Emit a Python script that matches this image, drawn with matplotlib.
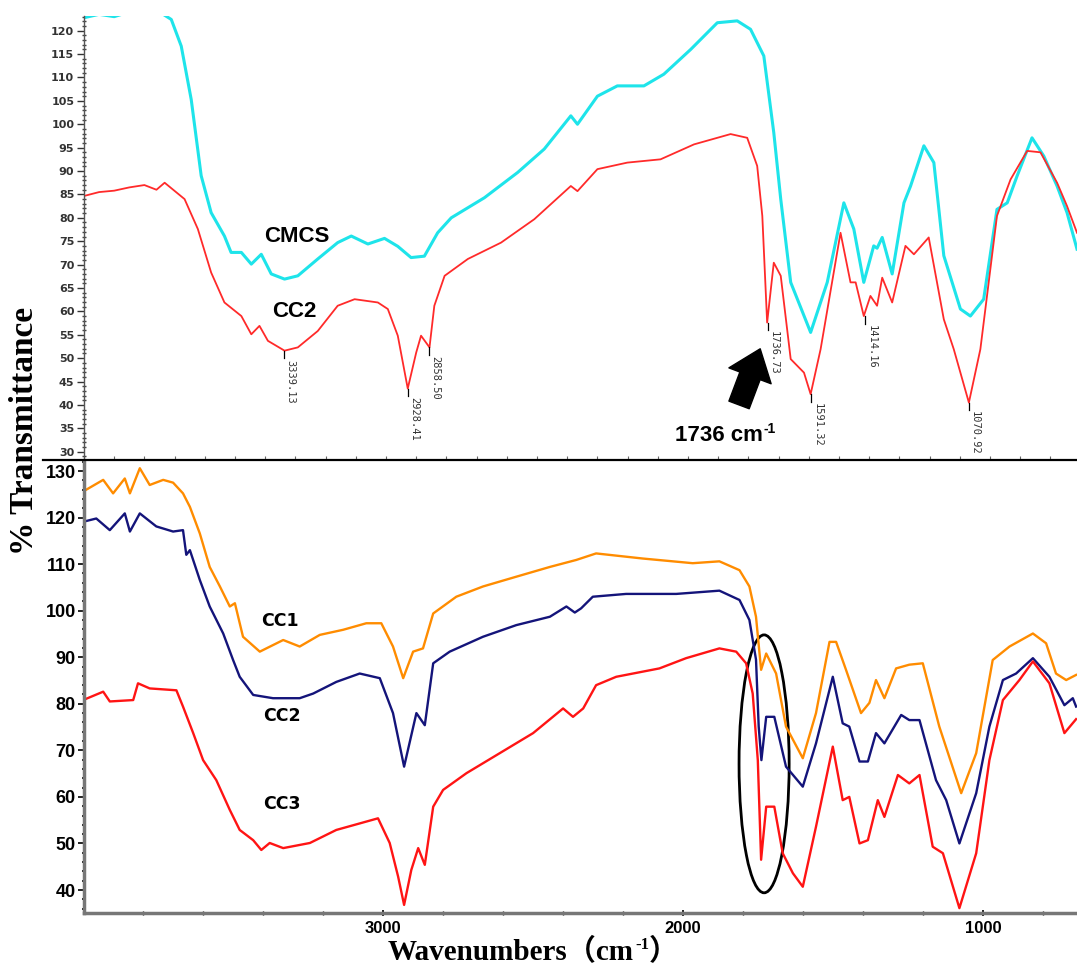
import matplotlib
matplotlib.use("Agg")
import matplotlib.pyplot as plt
from matplotlib.lines import Line2D
from matplotlib.patches import Ellipse
from matplotlib.ticker import MultipleLocator, FixedLocator

# ---------------- data: top panel (CMCS vs CC2) ----------------
cmcs_wn = [3998, 3950, 3900, 3850, 3800, 3750, 3711, 3678, 3645, 3612, 3579, 3535, 3513, 3479, 3446,
           3413, 3380, 3336, 3292, 3226, 3160, 3115, 3060, 3005, 2961, 2917, 2873, 2829, 2784, 2674,
           2564, 2476, 2388, 2366, 2344, 2300, 2234, 2146, 2080, 1991, 1903, 1837, 1793, 1749, 1716,
           1693, 1660, 1594, 1539, 1484, 1451, 1418, 1385, 1374, 1357, 1324, 1285, 1263, 1219, 1186,
           1153, 1098, 1065, 1021, 977, 943, 910, 861, 822, 778, 745, 712]
cmcs_t = [122.8, 123.5, 123.0, 124.0, 123.5, 124.0, 122.4, 116.7, 105.3, 89.0, 81.1, 76.1, 72.6, 72.6, 70.1,
          72.2, 68.0, 66.9, 67.6, 71.2, 74.7, 76.1, 74.4, 75.6, 73.9, 71.5, 71.8, 76.8, 80.0, 84.3,
          89.7, 94.7, 101.8, 100.0, 102.0, 106.0, 108.2, 108.2, 110.7, 116.0, 121.7, 122.1, 120.3, 114.6, 98.2,
          84.0, 66.2, 55.5, 66.2, 83.2, 77.6, 66.2, 74.0, 73.5, 75.8, 68.0, 83.2, 86.8, 95.4, 91.8,
          71.9, 60.5, 59.0, 62.6, 81.8, 83.2, 89.0, 97.1, 93.2, 86.8, 81.1, 73.3]

cc2_top_wn = [3998, 3950, 3900, 3850, 3800, 3760, 3733, 3667, 3623, 3579, 3535, 3479, 3446, 3419, 3391,
              3336, 3292, 3226, 3160, 3104, 3027, 2994, 2961, 2928, 2900, 2884, 2856, 2840, 2806, 2729,
              2619, 2509, 2388, 2366, 2300, 2201, 2091, 1980, 1859, 1804, 1771, 1754, 1738, 1716, 1693,
              1660, 1616, 1594, 1561, 1495, 1462, 1445, 1418, 1396, 1374, 1357, 1324, 1280, 1252, 1203,
              1153, 1120, 1070, 1032, 977, 932, 877, 833, 778, 745, 712]
cc2_top_t = [84.7, 85.5, 85.8, 86.5, 87.0, 86.0, 87.5, 84.0, 77.6, 68.3, 61.9, 59.0, 55.1, 56.9, 53.7,
             51.6, 52.3, 55.8, 61.2, 62.6, 61.9, 60.5, 54.8, 43.5, 51.2, 54.8, 52.3, 61.2, 67.6, 71.2,
             74.7, 79.7, 86.8, 85.7, 90.4, 91.8, 92.5, 95.7, 97.9, 97.1, 91.1, 80.4, 57.6, 70.4, 67.6,
             49.8, 46.9, 42.3, 51.9, 76.8, 66.2, 66.2, 59.0, 63.3, 61.2, 67.2, 61.9, 74.0, 72.2, 75.8,
             58.3, 51.9, 40.5, 51.9, 80.4, 88.2, 94.3, 94.0, 87.5, 82.5, 76.8]

peak_wn = [3339.13, 2928.41, 2858.50, 1736.73, 1591.32, 1414.16, 1070.92]
peak_t = [51.6, 43.5, 52.3, 57.6, 42.3, 59.0, 40.5]

# ---------------- data: bottom panel (CC1, CC2, CC3) ----------------
cc1_wn = [4000, 3933, 3900, 3861, 3844, 3811, 3778, 3733, 3700, 3667, 3644, 3611, 3578, 3544, 3511,
          3494, 3467, 3411, 3333, 3278, 3211, 3133, 3056, 3006, 2967, 2933, 2900, 2867, 2833, 2756,
          2667, 2556, 2444, 2356, 2290, 2134, 1968, 1879, 1812, 1779, 1757, 1740, 1723, 1690, 1657,
          1601, 1557, 1512, 1490, 1457, 1407, 1379, 1357, 1329, 1290, 1246, 1201, 1146, 1073, 1023,
          968, 912, 834, 790, 757, 723, 690]
cc1_t = [125.6, 128.1, 125.2, 128.4, 125.2, 130.6, 127.0, 128.1, 127.5, 125.2, 122.3, 116.6, 109.4, 105.2, 100.9,
         101.6, 94.4, 91.2, 93.7, 92.3, 94.8, 95.9, 97.3, 97.3, 92.3, 85.5, 91.2, 91.9, 99.4, 103.0,
         105.2, 107.3, 109.4, 110.9, 112.3, 111.2, 110.2, 110.6, 108.7, 105.2, 98.7, 87.3, 90.8, 86.5, 75.1,
         68.3, 78.0, 93.3, 93.3, 87.3, 78.0, 80.2, 85.1, 81.2, 87.6, 88.4, 88.7, 75.1, 60.8, 69.4,
         89.4, 92.3, 95.1, 93.0, 86.5, 85.1, 86.2]

cc2_wn = [4000, 3956, 3911, 3861, 3844, 3811, 3756, 3700, 3667, 3656, 3644, 3611, 3578, 3533, 3500,
          3478, 3433, 3367, 3278, 3233, 3156, 3078, 3011, 2967, 2930, 2889, 2861, 2833, 2778, 2667,
          2556, 2444, 2389, 2361, 2340, 2301, 2190, 2023, 1879, 1812, 1779, 1757, 1748, 1739, 1723,
          1696, 1657, 1601, 1557, 1501, 1468, 1446, 1412, 1384, 1357, 1329, 1273, 1246, 1212, 1157,
          1123, 1079, 1023, 979, 934, 890, 834, 779, 729, 701, 690]
cc2_t = [119.1, 119.8, 117.3, 120.9, 117.0, 120.9, 118.1, 117.0, 117.3, 112.0, 113.0, 106.6, 100.9, 95.1, 89.4,
         85.8, 81.9, 81.2, 81.2, 82.2, 84.7, 86.5, 85.5, 78.0, 66.5, 78.0, 75.4, 88.7, 91.2, 94.4,
         96.9, 98.7, 100.9, 99.6, 100.5, 103.0, 103.6, 103.6, 104.3, 102.3, 98.0, 89.5, 75.1, 67.9, 77.2,
         77.2, 66.5, 62.2, 71.5, 85.8, 75.8, 75.1, 67.6, 67.6, 73.7, 71.5, 77.6, 76.5, 76.5, 63.6,
         59.3, 50.0, 60.8, 75.1, 85.1, 86.5, 89.8, 85.8, 79.7, 81.2, 79.4]

cc3_wn = [4000, 3933, 3911, 3833, 3817, 3778, 3689, 3667, 3633, 3600, 3556, 3511, 3478, 3433, 3406,
          3378, 3333, 3244, 3156, 3078, 3017, 2978, 2950, 2930, 2906, 2883, 2861, 2833, 2800, 2722,
          2611, 2500, 2400, 2367, 2333, 2290, 2223, 2079, 1990, 1879, 1823, 1790, 1768, 1751, 1740,
          1723, 1696, 1668, 1634, 1601, 1557, 1501, 1468, 1446, 1412, 1384, 1351, 1329, 1284, 1246,
          1212, 1168, 1134, 1079, 1023, 979, 934, 879, 834, 779, 729, 690]
cc3_t = [80.8, 82.6, 80.5, 80.8, 84.4, 83.3, 82.9, 79.4, 73.7, 67.9, 63.6, 57.2, 52.9, 50.7, 48.6,
         50.1, 49.0, 50.1, 52.9, 54.3, 55.4, 50.1, 42.9, 36.8, 44.3, 49.0, 45.4, 57.9, 61.5, 65.1,
         69.4, 73.7, 79.0, 77.2, 79.0, 84.0, 85.8, 87.6, 89.8, 91.9, 91.2, 88.7, 82.2, 67.9, 46.5,
         57.9, 57.9, 47.9, 43.6, 40.7, 53.6, 70.8, 59.3, 60.0, 50.0, 50.7, 59.3, 55.7, 64.7, 62.9,
         64.7, 49.3, 47.9, 36.1, 47.9, 67.9, 80.8, 85.1, 89.1, 84.4, 73.7, 76.7]

top_yticks = list(range(30, 121, 5))
bottom_yticks = list(range(40, 131, 10))
bottom_xticks = [3000, 2000, 1000]

# ---------------- figure ----------------
W, H = 1077, 969
fig = plt.figure(figsize=(W / 100, H / 100), dpi=100)
fig.patch.set_facecolor("white")
renderer = fig.canvas.get_renderer()


def fx(px):
    return px / W


def fy(py):
    return 1 - py / H


def text_with_sup(x_px, base_py, main, sup, tail, fs, sup_fs, rise_px, family, sup_family):
    t1 = fig.text(fx(x_px), fy(base_py), main, fontsize=fs, fontweight="bold",
                  family=family, ha="left", va="baseline")
    bb = t1.get_window_extent(renderer)
    t2 = fig.text(bb.x1 / W + 1 / W, fy(base_py) + rise_px / H, sup, fontsize=sup_fs,
                  fontweight="bold", family=sup_family, ha="left", va="baseline")
    bb2 = t2.get_window_extent(renderer)
    if tail:
        fig.text(bb2.x1 / W, fy(base_py), tail, fontsize=fs, fontweight="bold",
                 family=family, ha="left", va="baseline")


sep = 460.5
ax1 = fig.add_axes([fx(84), fy(sep), fx(W - 84), (sep - 16) / H])
ax2 = fig.add_axes([fx(84), fy(913), fx(W - 84), (913 - sep) / H])

# ---- top panel ----
ax1.plot(cmcs_wn, cmcs_t, color="#1ee4ea", lw=2.2, solid_joinstyle="round")
ax1.plot(cc2_top_wn, cc2_top_t, color="#ff2a2a", lw=1.3, solid_joinstyle="round")
ax1.set_xlim(4000, 712)
ax1.set_ylim(28.12, 123.14)
ax1.yaxis.set_major_locator(FixedLocator(top_yticks))
ax1.yaxis.set_minor_locator(MultipleLocator(1))
ax1.xaxis.set_major_locator(MultipleLocator(1000))
ax1.xaxis.set_minor_locator(MultipleLocator(100))
ax1.tick_params(axis="x", which="both", direction="in", length=3, width=0.8,
                color="#666", labelbottom=False)
ax1.tick_params(axis="y", which="major", direction="out", length=5, width=1.0,
                color="#333", pad=2, labelsize=8, labelcolor="#333")
ax1.tick_params(axis="y", which="minor", direction="inout", length=2.5, width=1.0, color="#444")
for lab in ax1.get_yticklabels():
    lab.set_fontweight("bold")
    lab.set_family("DejaVu Sans")
for s in ["top", "right"]:
    ax1.spines[s].set_visible(False)
ax1.spines["left"].set_color("#555")
ax1.spines["left"].set_linewidth(1.0)
ax1.spines["bottom"].set_color("#bbbbbb")

ax1.text(3296, 75.9, "CMCS", fontsize=16, fontweight="bold",
         family=["Liberation Sans", "DejaVu Sans"], ha="center", va="center")
ax1.text(3303, 59.9, "CC2", fontsize=16, fontweight="bold",
         family=["Liberation Sans", "DejaVu Sans"], ha="center", va="center")

for w, t in zip(peak_wn, peak_t):
    ax1.plot([w, w], [t, t - 1.6], color="black", lw=0.9)
    ax1.annotate(f"{w:.2f}", xy=(w, t - 1.6), xytext=(1, -1), textcoords="offset points",
                 rotation=270, ha="left", va="top", fontsize=7.5,
                 family="DejaVu Sans Mono", color="#333")

ax1.annotate("", xy=(1761, 52.0), xytext=(1831, 40.0),
             arrowprops=dict(arrowstyle="simple,head_length=0.8,head_width=1.25,tail_width=0.6",
                             fc="black", ec="black", mutation_scale=26,
                             shrinkA=0, shrinkB=0))
text_with_sup(675, 441, "1736 cm", "-1", "", 16, 10, 8,
              ["Liberation Sans", "DejaVu Sans"], ["Liberation Sans", "DejaVu Sans"])

# ---- bottom panel ----
ax2.plot(cc1_wn, cc1_t, color="#ff8c00", lw=1.7, solid_joinstyle="round")
ax2.plot(cc2_wn, cc2_t, color="#14147a", lw=1.7, solid_joinstyle="round")
ax2.plot(cc3_wn, cc3_t, color="#ff1414", lw=1.7, solid_joinstyle="round")
ax2.set_xlim(3997, 687)
ax2.set_ylim(35.06, 132.26)
ax2.yaxis.set_major_locator(FixedLocator(bottom_yticks))
ax2.yaxis.set_minor_locator(MultipleLocator(2))
ax2.xaxis.set_major_locator(FixedLocator(bottom_xticks))
ax2.xaxis.set_minor_locator(MultipleLocator(200))
ax2.tick_params(axis="y", which="major", direction="out", length=4, width=1.2,
                color="black", pad=2, labelsize=13)
ax2.tick_params(axis="y", which="minor", direction="inout", length=2.5, width=1.2, color="black")
ax2.tick_params(axis="x", which="major", direction="inout", length=5, width=1.2,
                color="black", pad=3, labelsize=12)
ax2.tick_params(axis="x", which="minor", direction="inout", length=3, width=1.0, color="black")
for lab in ax2.get_yticklabels() + ax2.get_xticklabels():
    lab.set_fontweight("bold")
    lab.set_family("Liberation Sans")
for s in ["top", "right"]:
    ax2.spines[s].set_visible(False)
for s in ["left", "bottom"]:
    ax2.spines[s].set_color("#777")
    ax2.spines[s].set_linewidth(2.5)

for lbl, x, y in [("CC1", 3344, 97.8), ("CC2", 3337, 77.4), ("CC3", 3337, 58.5)]:
    ax2.text(x, y, lbl, fontsize=12.5, fontweight="bold", family="DejaVu Sans",
             ha="center", va="center")

ax2.add_patch(Ellipse((1730, 67.1), width=167, height=55.4, fill=False,
                      ec="black", lw=2.0))

# separator line between panels
fig.add_artist(Line2D([fx(43), 1.0], [fy(sep), fy(sep)], color="black", lw=1.6))

# axis titles
fig.text(fx(25), fy(431), "% Transmittance", rotation=90, ha="center", va="center",
         fontsize=24, fontweight="bold", family=["Liberation Serif", "DejaVu Serif"])
text_with_sup(388, 960, "Wavenumbers\uff08cm", "-1", "\uff09", 21, 12, 11,
              ["Liberation Serif", "DejaVu Serif", "Noto Sans CJK SC"],
              ["Liberation Serif", "DejaVu Serif"])

fig.savefig("out.png", dpi=100)
